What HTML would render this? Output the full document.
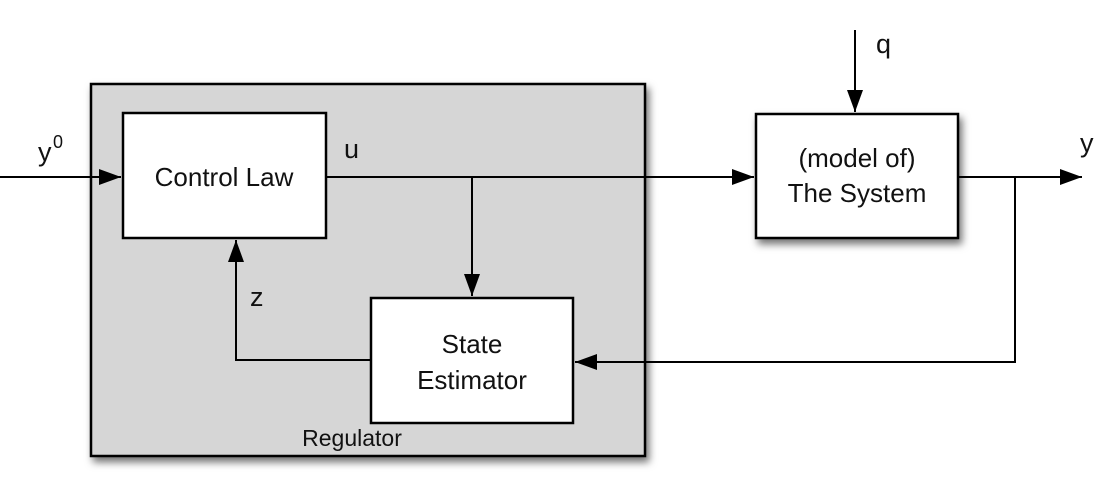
<!DOCTYPE html>
<html><head><style>
body{margin:0;background:#fff;width:1102px;height:477px;overflow:hidden}
svg text{font-family:"Liberation Sans",sans-serif;fill:#111}
</style></head><body>
<svg width="1102" height="477" viewBox="0 0 1102 477">
<defs>
<filter id="sh" x="-10%" y="-10%" width="130%" height="130%"><feDropShadow dx="3" dy="5" stdDeviation="4" flood-color="#000" flood-opacity="0.55"/></filter>
<marker id="a" markerWidth="24" markerHeight="16" refX="22" refY="8" orient="auto" markerUnits="userSpaceOnUse"><path d="M0,0 L22,8 L0,16 Z" fill="#000"/></marker>
</defs>
<rect x="91" y="84" width="554" height="372" fill="#d6d6d6" stroke="#000" stroke-width="2.5" filter="url(#sh)"/>
<rect x="123" y="113" width="203" height="125" fill="#fff" stroke="#000" stroke-width="2.5"/>
<rect x="371" y="298" width="202" height="125" fill="#fff" stroke="#000" stroke-width="2.5"/>
<rect x="756" y="114" width="202" height="124" fill="#fff" stroke="#000" stroke-width="2.5" filter="url(#sh)"/>
<g stroke="#000" stroke-width="2" fill="none">
<line x1="0" y1="177" x2="121" y2="177" marker-end="url(#a)"/>
<line x1="326" y1="177" x2="754" y2="177" marker-end="url(#a)"/>
<line x1="472" y1="177" x2="472" y2="296" marker-end="url(#a)"/>
<line x1="855" y1="30" x2="855" y2="112" marker-end="url(#a)"/>
<line x1="958" y1="177" x2="1082" y2="177" marker-end="url(#a)"/>
<polyline points="1015,177 1015,362 575,362" marker-end="url(#a)"/>
<polyline points="371,360 236,360 236,240" marker-end="url(#a)"/>
</g>
<text x="224" y="186" font-size="26" text-anchor="middle">Control Law</text>
<text x="472" y="353" font-size="26" text-anchor="middle">State</text>
<text x="472" y="389" font-size="26" text-anchor="middle">Estimator</text>
<text x="857" y="167" font-size="26" text-anchor="middle">(model of)</text>
<text x="857" y="202" font-size="26" text-anchor="middle">The System</text>
<text x="352" y="446" font-size="23" text-anchor="middle">Regulator</text>
<text x="38" y="161" font-size="27">y</text><text x="53" y="148" font-size="18">0</text>
<text x="344" y="158" font-size="27">u</text>
<text x="876" y="53" font-size="27">q</text>
<text x="1080" y="152" font-size="27">y</text>
<text x="250" y="306" font-size="27">z</text>
</svg>
</body></html>
